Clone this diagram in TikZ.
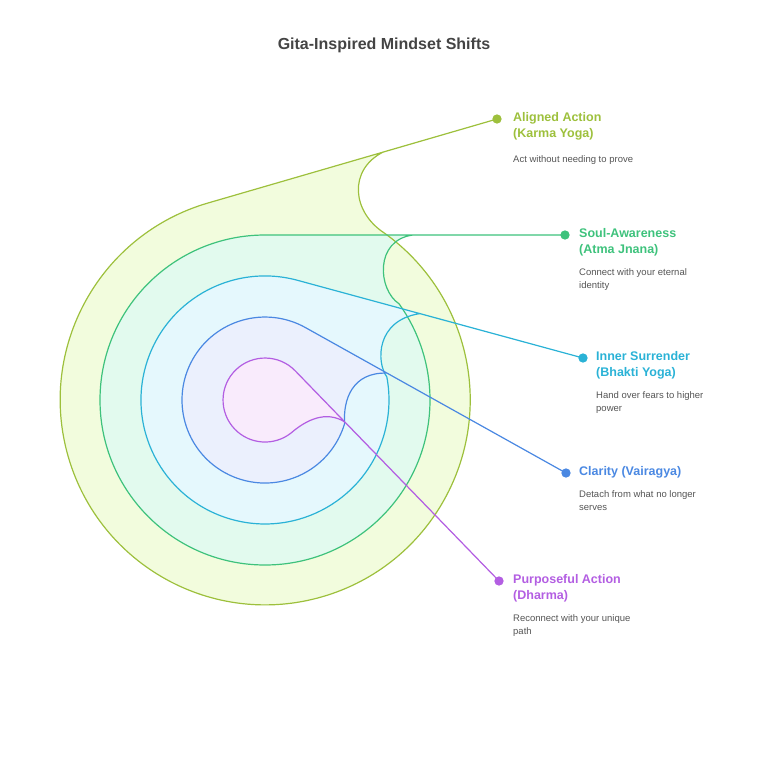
\documentclass[tikz,border=0pt]{standalone}
\usepackage{fontspec}
\setmainfont{Liberation Sans}
\usepackage{tikz}
\usetikzlibrary{positioning}
\definecolor{karmaline}{HTML}{9DC03C}
\definecolor{karmafill}{HTML}{F2FCDD}
\definecolor{atmaline}{HTML}{3EC27C}
\definecolor{atmafill}{HTML}{E2FAEE}
\definecolor{bhaktiline}{HTML}{2AB2D6}
\definecolor{bhaktifill}{HTML}{E5F8FD}
\definecolor{clarityline}{HTML}{4A88E2}
\definecolor{clarityfill}{HTML}{EBF0FD}
\definecolor{dharmaline}{HTML}{B35EE2}
\definecolor{dharmafill}{HTML}{F9EBFC}
\definecolor{descgray}{HTML}{555555}
\definecolor{titlegray}{HTML}{444444}

\begin{document}
\begin{tikzpicture}[x=1pt, y=-1pt]
    % Styles
    \tikzstyle{ring} = [line width=1.2pt]
    \tikzstyle{pin} = [circle, draw, fill=white, line width=1.2pt, minimum size=8pt, inner sep=0pt]
    \tikzstyle{head} = [anchor=north west, inner sep=0pt, align=left, font=\fontsize{12.5}{16}\selectfont\bfseries]
    \tikzstyle{desc} = [anchor=north west, inner sep=0pt, align=left, text=descgray, font=\fontsize{9.5}{13}\selectfont]

    \useasboundingbox (0,0) rectangle (768,782);
    \node[font=\fontsize{16}{18}\selectfont\bfseries, text=titlegray] (title) at (384,45) {Gita-Inspired Mindset Shifts};

    % Pins
    \coordinate (dkarma) at (497,119);
    \coordinate (datma) at (565,235);
    \coordinate (dbhakti) at (583,358);
    \coordinate (dclarity) at (566,473);
    \coordinate (ddharma) at (499,581);

    % Shape paths
    \def\karmapath{(dkarma) -- (208,203) arc[start angle=-106.2, end angle=-414.5, radius=205] .. controls (352,212) and (348,170) .. (383,152.1) -- cycle}
    \def\atmapath{(datma) -- (265,235) arc[start angle=-90, end angle=-395.7, radius=165] .. controls (378,290) and (374,240) .. (413,235) -- cycle}
    \def\bhaktipath{(dbhakti) -- (297.5,280.3) arc[start angle=-74.8, end angle=-370.7, radius=124] .. controls (376,362) and (376,320) .. (420,313.6) -- cycle}
    \def\claritypath{(dclarity) -- (305.5,327.6) arc[start angle=-60.8, end angle=-343.6, radius=83] .. controls (343,400) and (352,372) .. (387,373.1) -- cycle}
    \def\dharmapath{(ddharma) -- (295.2,370.8) arc[start angle=-44.1, end angle=-308, radius=42] .. controls (306,420) and (326,410) .. (345,422.1) -- cycle}

    % Fills
    \fill[karmafill] \karmapath;
    \fill[atmafill] \atmapath;
    \fill[bhaktifill] \bhaktipath;
    \fill[clarityfill] \claritypath;
    \fill[dharmafill] \dharmapath;

    % Outlines
    \draw[ring, karmaline] \karmapath;
    \draw[ring, atmaline] \atmapath;
    \draw[ring, bhaktiline] \bhaktipath;
    \draw[ring, clarityline] \claritypath;
    \draw[ring, dharmaline] \dharmapath;

    % Pins and labels
    \node[pin, karmaline] (pkarma) at (dkarma) {};
    \node[pin, atmaline] (patma) at (datma) {};
    \node[pin, bhaktiline] (pbhakti) at (dbhakti) {};
    \node[pin, clarityline] (pclarity) at (dclarity) {};
    \node[pin, dharmaline] (pdharma) at (ddharma) {};

    \node[head, text=karmaline] (hkarma) at (513,112) {Aligned Action\\(Karma Yoga)};
    \node[desc] (tkarma) at (513,155) {Act without needing to prove};
    \node[head, text=atmaline] (hatma) at (579,228) {Soul-Awareness\\(Atma Jnana)};
    \node[desc] (tatma) at (579,268) {Connect with your eternal\\identity};
    \node[head, text=bhaktiline] (hbhakti) at (596,351) {Inner Surrender\\(Bhakti Yoga)};
    \node[desc] (tbhakti) at (596,391) {Hand over fears to higher\\power};
    \node[head, text=clarityline] (hclarity) at (579,466) {Clarity (Vairagya)};
    \node[desc] (tclarity) at (579,490) {Detach from what no longer\\serves};
    \node[head, text=dharmaline] (hdharma) at (513,574) {Purposeful Action\\(Dharma)};
    \node[desc] (tdharma) at (513,614) {Reconnect with your unique\\path};
\end{tikzpicture}
\end{document}
